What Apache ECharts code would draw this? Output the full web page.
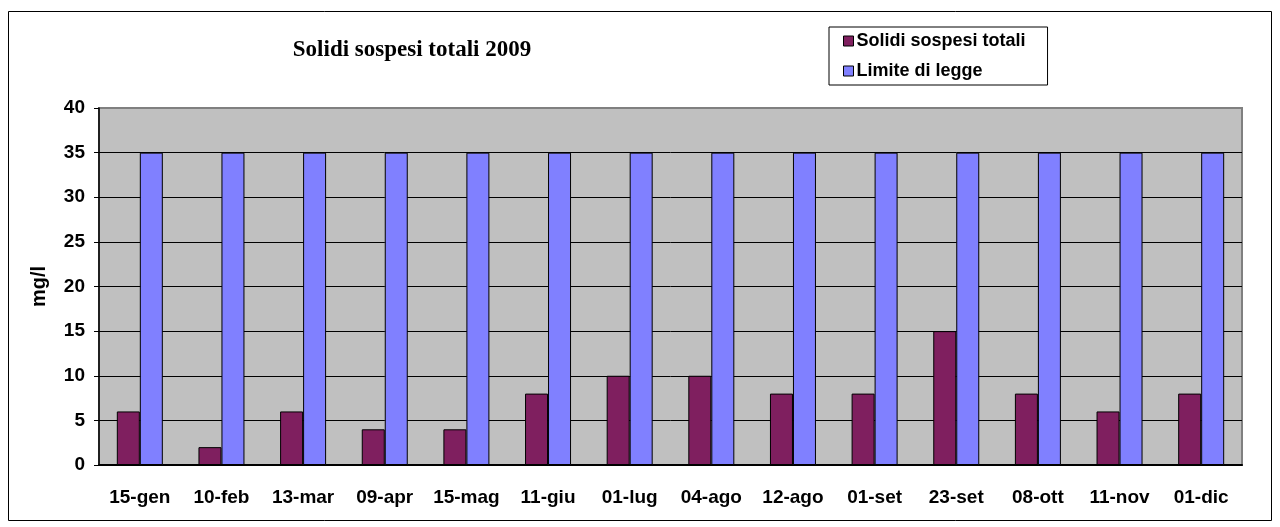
<!DOCTYPE html>
<html>
<head>
<meta charset="utf-8">
<script src="https://cdn.jsdelivr.net/npm/echarts@6/dist/echarts.min.js"></script>
<style>
  html, body { margin: 0; padding: 0; background: #fff; }
  #chart { width: 1280px; height: 527px; }
</style>
</head>
<body>
<div id="chart"></div>
<script>
// date dei campionamenti
const categories = ['15-gen', '10-feb', '13-mar', '09-apr', '15-mag', '11-giu', '01-lug',
  '04-ago', '12-ago', '01-set', '23-set', '08-ott', '11-nov', '01-dic'];
const solidi = [6, 2, 6, 4, 4, 8, 10, 10, 8, 8, 15, 8, 6, 8];
const limite = [35, 35, 35, 35, 35, 35, 35, 35, 35, 35, 35, 35, 35, 35];
const seriesNames = ['Solidi sospesi totali', 'Limite di legge'];

const myChart = echarts.init(document.getElementById('chart'));
const option = {
  animation: false,
  textStyle: { fontFamily: 'Liberation Sans, Arial, sans-serif' },
  graphic: [{
    type: 'rect',
    shape: { x: 8.5, y: 11.5, width: 1263, height: 509 },
    style: { fill: 'none', stroke: '#000', lineWidth: 1 },
    z: -1
  }],
  title: {
    text: 'Solidi sospesi totali 2009',
    left: 407,
    top: 34,
    textAlign: 'center',
    textStyle: { fontFamily: 'Liberation Serif, Times New Roman, serif', fontSize: 23, fontWeight: 'bold', color: '#000' }
  },
  legend: {
    orient: 'vertical',
    left: 829,
    top: 27,
    padding: [5, 22, 5, 14],
    itemGap: 12,
    itemWidth: 10,
    itemHeight: 10,
    borderColor: '#000',
    borderWidth: 1,
    backgroundColor: '#fff',
    icon: 'rect',
    itemStyle: { borderColor: '#000', borderWidth: 1 },
    textStyle: { fontSize: 18, fontWeight: 'bold', color: '#000', padding: [0, 0, 0, -2] },
    data: seriesNames
  },
  grid: {
    left: 99, right: 38, top: 108, bottom: 62,
    show: true,
    backgroundColor: '#C0C0C0',
    borderColor: '#808080',
    borderWidth: 2
  },
  xAxis: {
    type: 'category',
    data: categories,
    axisLine: { lineStyle: { color: '#000', width: 2 } },
    axisTick: { interval: 0, length: 6, lineStyle: { color: '#000' } },
    axisLabel: { interval: 0, margin: 23, fontSize: 19, fontWeight: 'bold', color: '#000' }
  },
  yAxis: {
    type: 'value',
    min: 0, max: 40, interval: 5,
    name: 'mg/l',
    nameLocation: 'middle',
    nameGap: 50,
    nameTextStyle: { fontSize: 20, fontWeight: 'bold', color: '#000' },
    axisLine: { show: true, lineStyle: { color: '#000', width: 1.5 } },
    axisTick: { show: true, length: 5, lineStyle: { color: '#000' } },
    axisLabel: { margin: 14, fontSize: 19, fontWeight: 'bold', color: '#000' },
    splitLine: {
      lineStyle: {
        color: ['#000', '#000', '#000', '#000', '#000', '#000', '#000', '#000', '#808080'],
        width: 1
      }
    }
  },
  series: [
    {
      name: seriesNames[0],
      type: 'bar',
      data: solidi,
      barWidth: 23,
      barGap: '0%',
      itemStyle: { color: '#7F1F5F', borderColor: '#000', borderWidth: 1 }
    },
    {
      name: seriesNames[1],
      type: 'bar',
      data: limite,
      barWidth: 23,
      itemStyle: { color: '#8080FF', borderColor: '#000', borderWidth: 1 }
    }
  ]
};
myChart.setOption(option);
</script>
</body>
</html>
